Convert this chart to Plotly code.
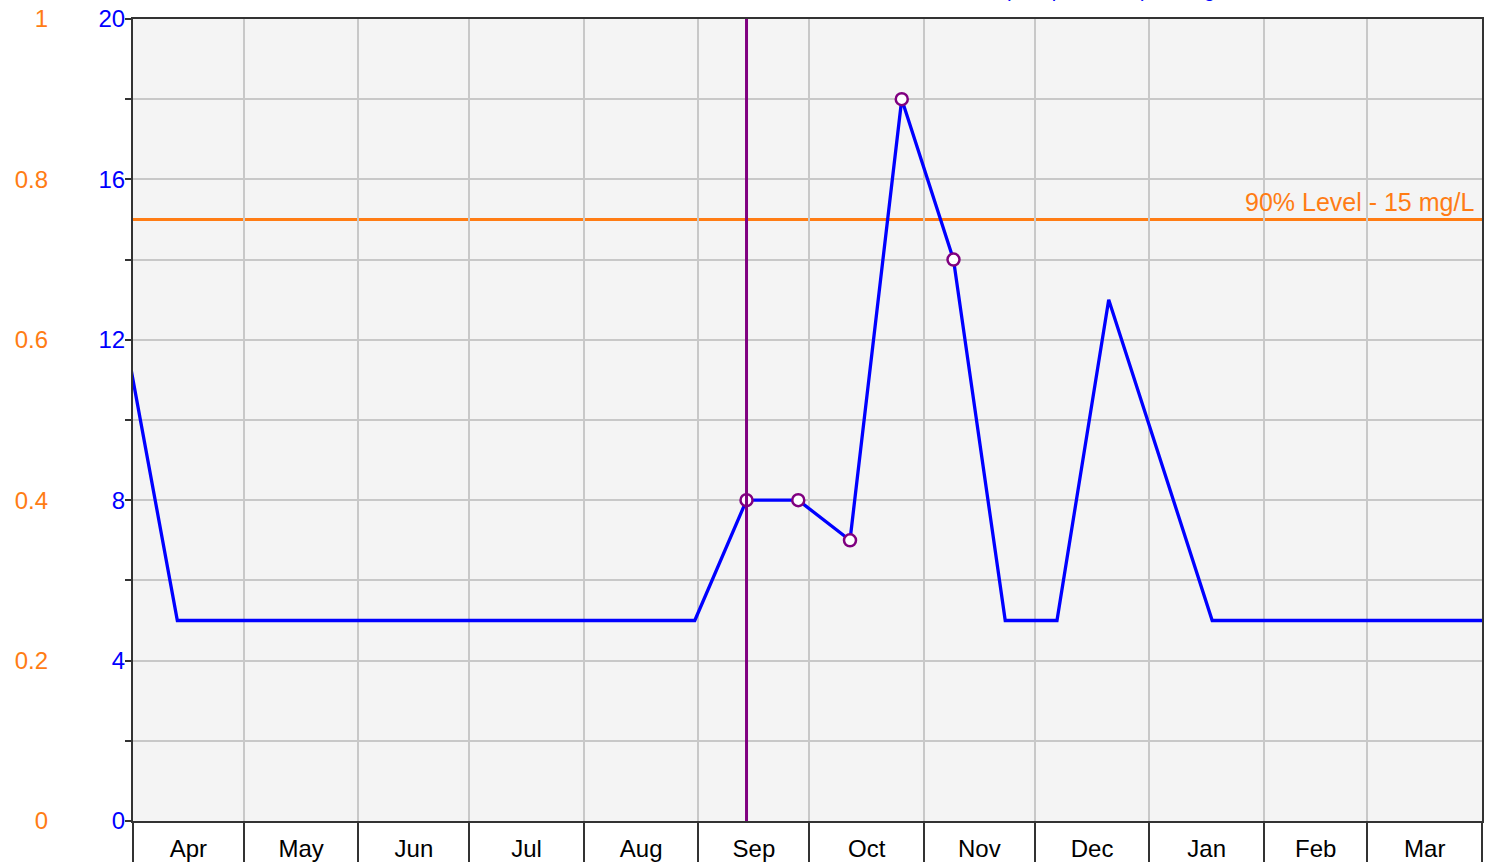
import plotly.graph_objects as go

# ---- data ----
sample_dates = ["2022-03-30", "2022-04-13", "2022-04-27", "2022-05-11", "2022-05-25",
                "2022-06-08", "2022-06-22", "2022-07-06", "2022-07-20", "2022-08-03",
                "2022-08-17", "2022-08-31", "2022-09-14", "2022-09-28", "2022-10-12",
                "2022-10-26", "2022-11-09", "2022-11-23", "2022-12-07", "2022-12-21",
                "2023-01-18", "2023-02-01", "2023-02-15", "2023-03-01", "2023-03-15",
                "2023-03-29", "2023-04-12"]
sample_values = [12, 5, 5, 5, 5, 5, 5, 5, 5, 5, 5, 5, 8, 8, 7, 18, 14, 5, 5, 13,
                 5, 5, 5, 5, 5, 5, 5]

marked_dates = ["2022-09-14", "2022-09-28", "2022-10-12", "2022-10-26", "2022-11-09"]
marked_values = [8, 8, 7, 18, 14]

highlight_date = "2022-09-14"
level_90 = 15
level_label = "90% Level - 15 mg/L"
title_text = "(Sample Result) Average"

x_range = ["2022-04-01", "2023-04-01"]
y_range = [0, 20]
y2_range = [0, 1]

BLUE = "#0000ff"
ORANGE = "#ff7c14"
PURPLE = "#800080"
FONT = "Arial, Liberation Sans, sans-serif"

W, H = 1489, 862
ML, MR, MT, MB = 0, 7, 19, 41
plot_left_px = 133
paper_w = W - ML - MR

fig = go.Figure()

fig.add_trace(go.Scatter(
    x=sample_dates, y=sample_values, mode="lines",
    line=dict(color=BLUE, width=3.3), showlegend=False, cliponaxis=True))

fig.add_trace(go.Scatter(
    x=marked_dates, y=marked_values, mode="markers",
    marker=dict(symbol="circle", size=12, color="white",
                line=dict(color=PURPLE, width=2.5)),
    showlegend=False))

# invisible trace for orange axis
fig.add_trace(go.Scatter(x=[x_range[0]], y=[0], yaxis="y2", mode="markers",
                         marker=dict(opacity=0), showlegend=False, hoverinfo="skip"))

fig.add_vline(x=highlight_date, line=dict(color=PURPLE, width=3), layer="above")
fig.add_hline(y=level_90, line=dict(color=ORANGE, width=3), layer="below")

fig.add_annotation(x=1, xref="paper", xanchor="right", xshift=-6,
                   y=level_90, yref="y", yanchor="bottom", yshift=2,
                   text=level_label, showarrow=False,
                   font=dict(family=FONT, size=25, color=ORANGE))

fig.add_annotation(x=(1002 - ML) / paper_w, xref="paper", xanchor="left",
                   y=1, yref="paper", yanchor="bottom", yshift=16,
                   text=title_text, showarrow=False,
                   font=dict(family=FONT, size=20, color=BLUE))

fig.update_layout(
    width=W, height=H,
    margin=dict(l=ML, r=MR, t=MT, b=MB, pad=0, autoexpand=False),
    paper_bgcolor="white", plot_bgcolor="#f4f4f4",
    font=dict(family=FONT),
    xaxis=dict(
        type="date", range=x_range, domain=[(plot_left_px - ML) / paper_w, 1],
        dtick="M1", tick0="2022-04-01", tickformat="%b", ticklabelmode="period",
        ticks="outside", ticklen=41, tickwidth=2, tickcolor="#333333",
        ticklabelstandoff=-36, automargin=False,
        tickfont=dict(family=FONT, size=24, color="black"),
        showgrid=True, gridcolor="#c8c8c8", gridwidth=1.5,
        showline=True, linecolor="#333333", linewidth=2, mirror=True,
        zeroline=False, fixedrange=True),
    yaxis=dict(
        range=y_range, dtick=4, tick0=0, automargin=False,
        ticks="outside", ticklen=6, tickwidth=1.5, tickcolor="#333333",
        ticklabelstandoff=-5,
        tickfont=dict(family=FONT, size=24, color=BLUE),
        showgrid=True, gridcolor="#c8c8c8", gridwidth=1.5,
        minor=dict(dtick=2, tick0=0, ticks="outside", ticklen=6, tickwidth=1.5,
                   tickcolor="#333333", showgrid=True, gridcolor="#c8c8c8", gridwidth=1.5),
        showline=True, linecolor="#333333", linewidth=2, mirror=True,
        zeroline=False, fixedrange=True),
    yaxis2=dict(
        range=y2_range, dtick=0.2, tick0=0, overlaying="y", side="left",
        anchor="free", position=48 / paper_w, automargin=False,
        ticks="", showline=False, showgrid=False, zeroline=False,
        tickfont=dict(family=FONT, size=24, color=ORANGE), fixedrange=True),
)

fig.write_html("out.html", config={"displayModeBar": False},
               post_script="document.body.style.margin='0';")
